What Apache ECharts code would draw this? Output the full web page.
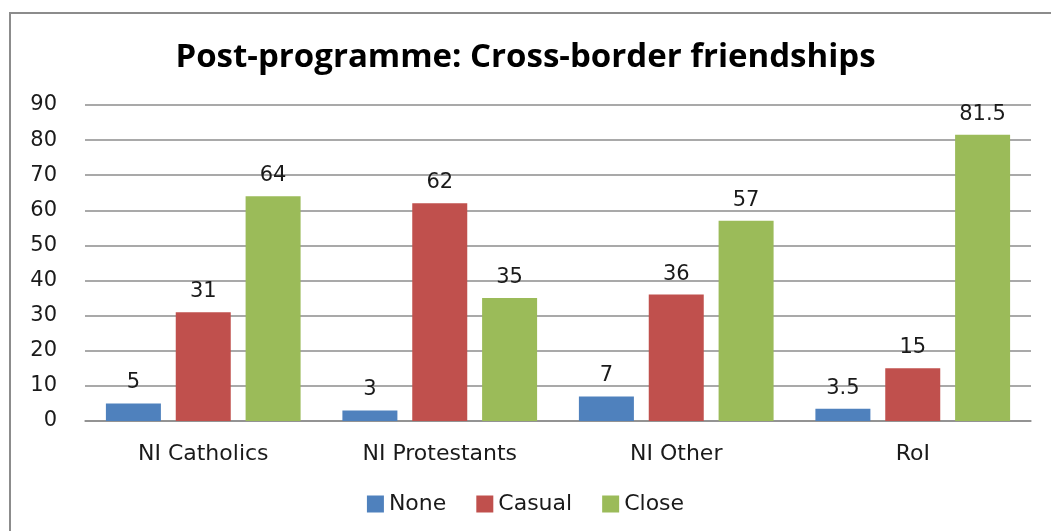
<!DOCTYPE html>
<html>
<head>
<meta charset="utf-8">
<script src="https://cdn.jsdelivr.net/npm/echarts@6/dist/echarts.min.js"></script>
<style>
  html, body { margin: 0; padding: 0; background: #fff; overflow: hidden; }
  .frame {
    position: absolute;
    left: 9px;
    top: 12px;
    width: 1200px;
    height: 700px;
    border: 2px solid #8c8c8c;
    box-sizing: border-box;
  }
  #chart { position: absolute; left: 0; top: 0; width: 1051px; height: 531px; }
</style>
</head>
<body>
<div class="frame"></div>
<div id="chart"></div>
<script>
const categories = ['NI Catholics', 'NI Protestants', 'NI Other', 'RoI']
const noneValues = [5, 3, 7, 3.5]
const casualValues = [31, 62, 36, 15]
const closeValues = [64, 35, 57, 81.5]
const yTicks = [0, 10, 20, 30, 40, 50, 60, 70, 80, 90]

const chart = echarts.init(document.getElementById('chart'))

const labelStyle = {
  show: true,
  position: 'top',
  distance: 10,
  color: '#1a1a1a',
  fontFamily: 'DejaVu Sans',
  fontSize: 21
}

const makeSeries = (name, data, color) => ({
  name,
  type: 'bar',
  data,
  barWidth: 55,
  barGap: '27%',
  itemStyle: { color },
  label: labelStyle,
  animation: false
})

chart.setOption({
  animation: false,
  title: {
    text: 'Post-programme: Cross-border friendships',
    left: 'center',
    top: 36,
    textStyle: {
      fontFamily: 'Open Sans',
      fontWeight: 'bold',
      fontSize: 33,
      color: '#000'
    }
  },
  legend: {
    data: ['None', 'Casual', 'Close'],
    bottom: 11,
    left: 'center',
    icon: 'rect',
    itemWidth: 17,
    itemHeight: 17,
    itemGap: 30,
    textStyle: { fontFamily: 'DejaVu Sans', fontSize: 22, color: '#1a1a1a' }
  },
  grid: { left: 85, right: 20, top: 105, bottom: 110 },
  xAxis: {
    type: 'category',
    data: categories,
    axisLine: { lineStyle: { color: '#8c8c8c', width: 1.5 } },
    axisTick: { show: false },
    axisLabel: {
      margin: 22,
      color: '#1a1a1a',
      fontFamily: 'DejaVu Sans',
      fontSize: 22
    }
  },
  yAxis: {
    type: 'value',
    min: yTicks[0],
    max: yTicks[yTicks.length - 1],
    interval: 10,
    axisLine: { show: false },
    axisTick: { show: false },
    axisLabel: {
      margin: 28,
      color: '#1a1a1a',
      fontFamily: 'DejaVu Sans',
      fontSize: 21
    },
    splitLine: { lineStyle: { color: '#8c8c8c', width: 1.5 } }
  },
  series: [
    makeSeries('None', noneValues, '#4f81bd'),
    makeSeries('Casual', casualValues, '#c0504d'),
    makeSeries('Close', closeValues, '#9bbb59')
  ]
})
</script>
</body>
</html>
